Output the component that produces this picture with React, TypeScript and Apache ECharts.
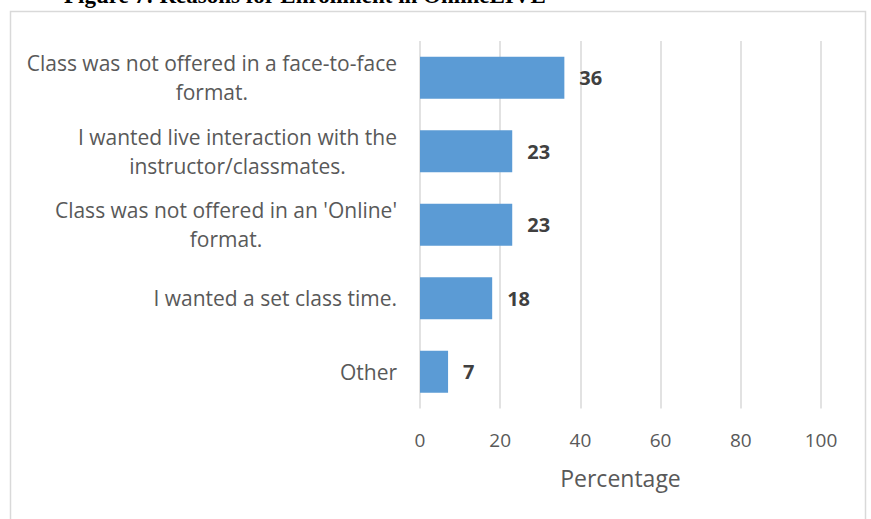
import React, { useEffect, useRef } from "react";
import * as echarts from "echarts";

const categories = [
  "Other",
  "I wanted a set class time.",
  "Class was not offered in an 'Online'\nformat.",
  "I wanted live interaction with the\ninstructor/classmates.",
  "Class was not offered in a face-to-face\nformat.",
];
const values = [7, 18, 23, 23, 36];
const xTicks = [0, 20, 40, 60, 80, 100];
const titleText = "Figure 7: Reasons for Enrollment in OnlineLIVE";
const axisName = "Percentage";

export default function App() {
  const ref = useRef<HTMLDivElement>(null);
  useEffect(() => {
    const chart = echarts.init(ref.current!, undefined, { renderer: "svg" });
    const font = "'Open Sans', 'Noto Sans', sans-serif";
    chart.setOption({
      animation: false,
      backgroundColor: "#ffffff",
      textStyle: { fontFamily: font },
      graphic: [
        {
          type: "rect",
          shape: { x: 10.5, y: 11.5, width: 855, height: 520 },
          style: { fill: "none", stroke: "#d9d9d9", lineWidth: 1.5 },
          silent: true,
        },
        {
          type: "text",
          x: 64,
          y: 7,
          style: {
            text: titleText,
            font: "bold 23px 'Liberation Serif', serif",
            fill: "#000",
            verticalAlign: "bottom",
          },
        },
      ],
      grid: { left: 420, right: 50, top: 41, bottom: 110.5, containLabel: false },
      xAxis: {
        type: "value",
        min: xTicks[0],
        max: xTicks[xTicks.length - 1],
        interval: 20,
        name: axisName,
        nameLocation: "middle",
        nameGap: 58,
        nameTextStyle: { fontSize: 23, color: "#595959", fontFamily: font },
        axisLine: { show: false },
        axisTick: { show: false },
        axisLabel: { fontSize: 19, color: "#595959", margin: 22, fontFamily: font },
        splitLine: { show: true, lineStyle: { color: "#d9d9d9", width: 1.5 } },
      },
      yAxis: {
        type: "category",
        data: categories,
        axisLine: { show: false },
        axisTick: { show: false },
        axisLabel: {
          margin: 23,
          fontSize: 21,
          color: "#595959",
          fontFamily: font,
          lineHeight: 29,
          formatter: (v: string) =>
            v
              .split("\n")
              .map((l) => `{c|${l}}`)
              .join("\n"),
          rich: {
            c: { align: "center", fontSize: 21, color: "#595959", fontFamily: font, lineHeight: 29 },
          },
        },
      },
      series: [
        {
          type: "bar",
          data: values,
          barWidth: 42,
          itemStyle: { color: "#5b9bd5" },
          label: {
            show: true,
            position: "right",
            distance: 15,
            fontSize: 20,
            fontWeight: "bold",
            color: "#404040",
            fontFamily: font,
          },
        },
      ],
    });
    return () => chart.dispose();
  }, []);
  return (
    <div
      ref={ref}
      style={{ position: "fixed", left: 0, top: 0, width: 871, height: 519 }}
    />
  );
}
